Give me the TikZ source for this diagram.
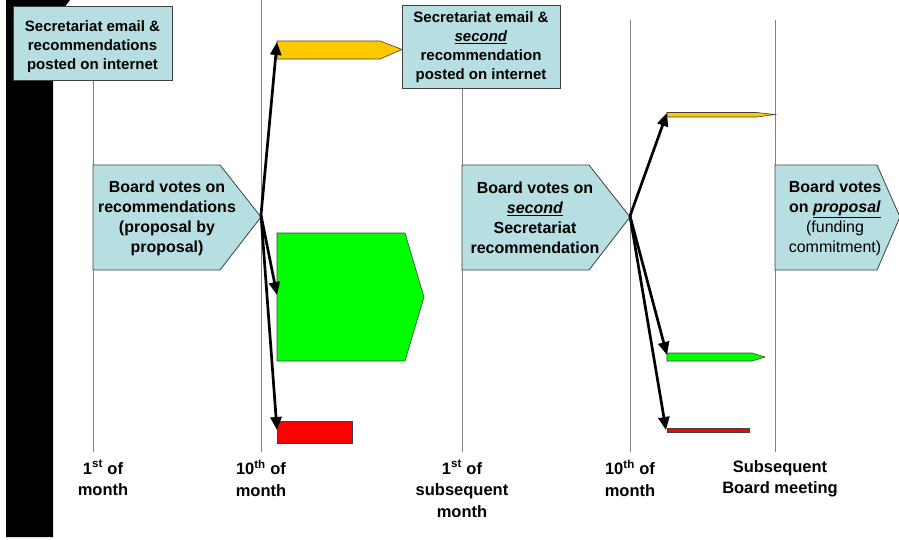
\documentclass[tikz,border=0pt]{standalone}
\usepackage{fontspec}
\setmainfont{Liberation Sans}
\usetikzlibrary{arrows.meta}
\definecolor{boxblue}{RGB}{183,222,225}
\definecolor{edgegrey}{RGB}{64,64,64}
\definecolor{lanegrey}{RGB}{128,128,128}
\definecolor{amber}{RGB}{255,200,0}
\definecolor{brightgreen}{RGB}{0,255,0}
\definecolor{brightred}{RGB}{255,0,0}
\tikzset{
  lane/.style={draw=lanegrey, line width=0.9pt},
  notice/.style={draw=edgegrey, fill=boxblue, line width=0.8pt},
  stage/.style={draw=edgegrey, fill=boxblue, line width=0.8pt},
  outcome/.style={draw=edgegrey, line width=0.6pt},
  txt/.style={align=center, inner sep=0pt, font=\fontsize{15}{19}\selectfont\bfseries},
  stagetxt/.style={align=center, inner sep=0pt, font=\fontsize{16}{20}\selectfont\bfseries},
  datetxt/.style={align=center, inner sep=0pt, anchor=north, font=\fontsize{16.5}{21.5}\selectfont\bfseries},
  vote/.style={-{Triangle[length=13pt,width=11pt]}, line width=2.7pt, black}
}
\newcommand{\emphword}[1]{\underline{\textit{#1}}}
\begin{document}
\begin{tikzpicture}[x=1pt,y=-1pt]
\useasboundingbox (0,0) rectangle (899,539);
% dark band on the left
\fill[black] (6,0) -- (70,0) -- (53,22) -- (53,537) -- (6,537) -- cycle;

% time lanes
\draw[lane] (93,80) -- (93,452);
\draw[lane] (261,0) -- (261,452);
\draw[lane] (462,88) -- (462,452);
\draw[lane] (630,20) -- (630,452);
\draw[lane] (775,20) -- (775,452);

% notices posted on the internet
\draw[notice] (13,6) rectangle (172,80);
\node[txt] (post1) at (92.5,47) {Secretariat email \&\\recommendations\\posted on internet};
\draw[notice] (402,5) rectangle (560,88);
\node[txt] (post2) at (481,47) {Secretariat email \&\\\emphword{second}\\recommendation\\posted on internet};

% board votes
\draw[stage] (93,165) -- (220,165) -- (261,217) -- (220,270) -- (93,270) -- cycle;
\node[stagetxt] (vote1) at (167,218) {Board votes on\\recommendations\\(proposal by\\proposal)};
\coordinate (fork1) at (261,215);

\draw[stage] (462,165) -- (589,165) -- (630,217) -- (589,270) -- (462,270) -- cycle;
\node[stagetxt] (vote2) at (535,218) {Board votes on\\\emphword{second}\\Secretariat\\recommendation};
\coordinate (fork2) at (630,216);

\draw[stage] (775,165) -- (877,165) -- (900,217) -- (877,270) -- (775,270) -- cycle;
\node[stagetxt] (vote3) at (835,218) {Board votes\\on \emphword{proposal}\\\mdseries(funding\\\mdseries commitment)};

% outcomes after the first vote
\draw[outcome, fill=amber] (277,41) -- (380,41) -- (402,49.5) -- (380,59) -- (277,59) -- cycle;
\coordinate (y1) at (277,42);
\draw[outcome, fill=brightgreen] (277,233) -- (405,233) -- (424,297) -- (405,361) -- (277,361) -- cycle;
\coordinate (g1) at (277,295);
\draw[outcome, fill=brightred] (277,421) rectangle (352,443);
\coordinate (r1) at (277,430);

% outcomes after the second vote
\draw[outcome, fill=amber] (667,112.5) -- (757,112.5) -- (775,114.5) -- (757,117) -- (667,117) -- cycle;
\coordinate (y2) at (667,113);
\draw[outcome, fill=brightgreen] (667,353) -- (752,353) -- (765,357) -- (752,361) -- (667,361) -- cycle;
\coordinate (g2) at (667,355);
\draw[outcome, fill=brightred] (667,428.5) rectangle (749,432);
\coordinate (r2) at (666,430);

% vote arrows
\draw[vote] (fork1) -- (y1);
\draw[vote] (fork1) -- (g1);
\draw[vote] (fork1) -- (r1);
\draw[vote] (fork2) -- (y2);
\draw[vote] (fork2) -- (g2);
\draw[vote] (fork2) -- (r2);

% dates along the bottom
\node[datetxt] (d1) at (103,460) {1\textsuperscript{st} of\\month};
\node[datetxt] (d2) at (261,460) {10\textsuperscript{th} of\\month};
\node[datetxt] (d3) at (462,460) {1\textsuperscript{st} of\\subsequent\\month};
\node[datetxt] (d4) at (630,460) {10\textsuperscript{th} of\\month};
\node[datetxt] (d5) at (780,460) {Subsequent\\Board meeting};
\end{tikzpicture}
\end{document}
